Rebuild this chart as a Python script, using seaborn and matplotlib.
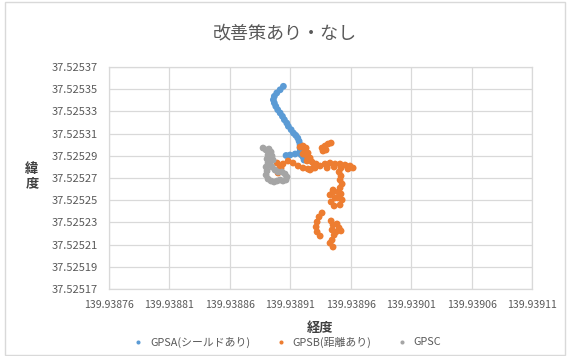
import matplotlib
matplotlib.use("Agg")
import matplotlib.pyplot as plt
from matplotlib.patches import Rectangle
import pandas as pd
import seaborn as sns

# GPS tracks (longitude / latitude)
gpsa_lon = [139.9389043, 139.9389016, 139.9388988, 139.9388968, 139.938896, 139.9388968,
            139.938898, 139.9388996, 139.9389016, 139.9389035, 139.9389051, 139.9389071,
            139.9389084, 139.9389107, 139.9389126, 139.9389145, 139.9389162, 139.9389173,
            139.9389181, 139.9389181, 139.9389181, 139.9389189, 139.9389206, 139.9389214,
            139.938914, 139.9389098, 139.9389065]
gpsa_lat = [37.5253526, 37.5253495, 37.5253466, 37.5253436, 37.5253405, 37.5253376,
            37.5253346, 37.5253315, 37.5253286, 37.5253256, 37.5253225, 37.5253195,
            37.5253166, 37.5253135, 37.5253105, 37.5253085, 37.525306, 37.5253031,
            37.5253, 37.525297, 37.5252941, 37.525291, 37.5252889, 37.5252862,
            37.5252916, 37.5252907, 37.5252903]

gpsb_lon = [139.9389181, 139.9389206, 139.9389231, 139.9389222, 139.9389247, 139.9389206,
            139.9389239, 139.9389264,
            139.9389082, 139.9389123, 139.9389165, 139.9389206, 139.9389247, 139.9389289,
            139.9389239, 139.938928, 139.9389314, 139.9389305, 139.9389264,
            139.9388991, 139.9389016, 139.9389007, 139.9388999, 139.9389024, 139.938904,
            139.9389363, 139.9389388, 139.9389413, 139.9389438, 139.9389371, 139.9389396,
            139.9389347, 139.9389388, 139.9389429, 139.9389471, 139.9389512, 139.9389554,
            139.9389595, 139.938962, 139.9389578, 139.938952, 139.9389463, 139.9389405,
            139.9389504, 139.938952, 139.9389512, 139.9389529, 139.9389512, 139.9389496,
            139.9389454,
            139.9389429, 139.9389454, 139.9389471, 139.9389438, 139.9389463, 139.9389496,
            139.938952, 139.9389529, 139.9389512,
            139.9389363, 139.9389338, 139.9389322, 139.9389314, 139.9389322, 139.9389347,
            139.9389438, 139.9389454, 139.9389487, 139.9389504, 139.9389479, 139.938952,
            139.9389446, 139.9389463,
            139.9389446, 139.9389454, 139.9389429]
gpsb_lat = [37.5252979, 37.5252988, 37.525297, 37.5252943, 37.5252925, 37.5252916,
            37.5252898, 37.525288,
            37.5252853, 37.5252835, 37.5252808, 37.525279, 37.5252781, 37.525279,
            37.5252853, 37.5252844, 37.5252826, 37.525279, 37.5252772,
            37.5252835, 37.5252808, 37.5252772, 37.5252745, 37.525279, 37.5252826,
            37.525297, 37.5252988, 37.5253006, 37.5253015, 37.5252943, 37.5252952,
            37.5252808, 37.5252826, 37.5252835, 37.5252826, 37.5252826, 37.5252817,
            37.5252808, 37.525279, 37.5252781, 37.525279, 37.5252799, 37.525279,
            37.5252754, 37.5252718, 37.5252682, 37.5252646, 37.525261, 37.5252574,
            37.5252592,
            37.5252547, 37.5252574, 37.525252, 37.5252484, 37.5252448, 37.525252,
            37.5252556, 37.5252502, 37.5252457,
            37.5252385, 37.5252349, 37.5252304, 37.5252259, 37.5252214, 37.5252177,
            37.5252313, 37.5252277, 37.5252286, 37.525225, 37.5252214, 37.5252223,
            37.5252232, 37.5252186,
            37.5252141, 37.5252078, 37.5252113]

gpsc_lon = [139.9388875, 139.93889, 139.9388924, 139.9388941, 139.9388916, 139.9388908,
            139.9388916, 139.93889, 139.9388908, 139.93889, 139.9388916, 139.9388941,
            139.9388966, 139.9388991, 139.9389016, 139.938904, 139.9389065, 139.9389073,
            139.9389057, 139.9389032, 139.9388999, 139.9388974, 139.9388949, 139.9388933,
            139.9388958, 139.9388949]
gpsc_lat = [37.525297, 37.5252952, 37.5252961, 37.5252934, 37.5252907, 37.5252871,
            37.5252835, 37.5252799, 37.5252763, 37.5252727, 37.5252691, 37.5252673,
            37.5252664, 37.5252673, 37.5252682, 37.5252673, 37.5252682, 37.5252709,
            37.5252736, 37.5252754, 37.5252754, 37.5252772, 37.5252799, 37.5252826,
            37.5252862, 37.5252898]

series_names = ["GPSA(シールドあり)", "GPSB(距離あり)", "GPSC"]
series_colors = ["#5B9BD5", "#ED7D31", "#A5A5A5"]

x_ticks = [139.93876, 139.93881, 139.93886, 139.93891, 139.93896, 139.93901, 139.93906, 139.93911]
y_ticks = [37.52517, 37.52519, 37.52521, 37.52523, 37.52525, 37.52527,
           37.52529, 37.52531, 37.52533, 37.52535, 37.52537]

df = pd.concat([
    pd.DataFrame({"lon": gpsa_lon, "lat": gpsa_lat, "series": series_names[0]}),
    pd.DataFrame({"lon": gpsb_lon, "lat": gpsb_lat, "series": series_names[1]}),
    pd.DataFrame({"lon": gpsc_lon, "lat": gpsc_lat, "series": series_names[2]}),
], ignore_index=True)

sns.set_style("white")
plt.rcParams["font.family"] = ["Noto Sans CJK JP", "DejaVu Sans"]

txt = "#595959"
grid = "#D9D9D9"

fig = plt.figure(figsize=(5.69, 3.56), dpi=100)
ax = fig.add_axes([109 / 569, 1 - 289 / 356, (532 - 109) / 569, (289 - 67) / 356])

sns.scatterplot(data=df, x="lon", y="lat", hue="series", hue_order=series_names,
                palette=series_colors, s=24, linewidth=0, alpha=1, ax=ax)

ax.set_xlim(x_ticks[0], x_ticks[-1])
ax.set_ylim(y_ticks[0], y_ticks[-1])
ax.set_xticks(x_ticks)
ax.set_xticklabels([f"{v:.5f}" for v in x_ticks], fontsize=7.6, color=txt)
ax.set_yticks(y_ticks)
ax.set_yticklabels([f"{v:.5f}" for v in y_ticks], fontsize=8, color=txt)
ax.tick_params(length=0, pad=8)
ax.grid(True, color=grid, linewidth=0.9)
for sp in ax.spines.values():
    sp.set_color(grid)
    sp.set_linewidth(0.9)

ax.set_xlabel("経度", fontsize=9.5, color="#404040", fontweight="bold", labelpad=8)
ax.set_ylabel("")
fig.text(32 / 569, 1 - 176 / 356, "緯\n度", fontsize=9.5, color="#404040",
         fontweight="bold", ha="center", va="center", linespacing=1.0)

fig.text(0.5, 1 - 33 / 356, "改善策あり・なし", fontsize=13, color=txt,
         ha="center", va="center")

sns.move_legend(ax, "center", bbox_to_anchor=(0.5, 14 / 356), bbox_transform=fig.transFigure,
                ncol=3, frameon=False, title=None, fontsize=7.8, labelcolor=txt,
                handletextpad=0.1, columnspacing=1.8, markerscale=0.6)

fig.add_artist(Rectangle((5 / 569, 1 / 356), 560 / 569, 353 / 356, transform=fig.transFigure,
                         fill=False, edgecolor=grid, linewidth=1))

fig.savefig("out.png", dpi=100)
